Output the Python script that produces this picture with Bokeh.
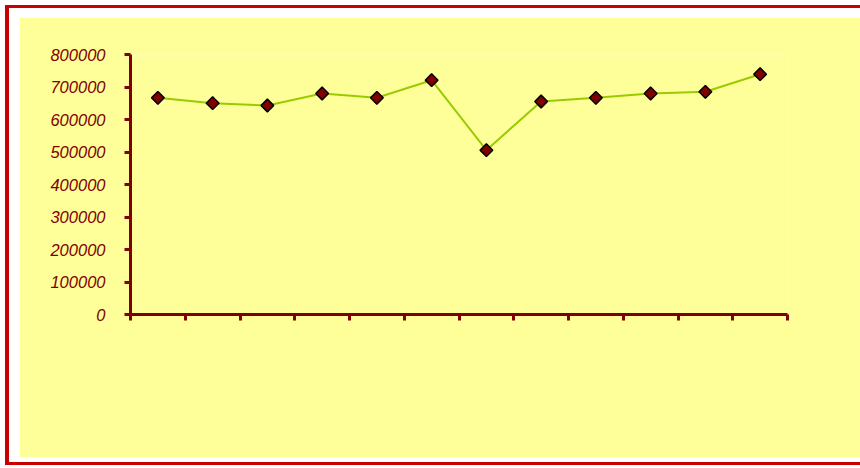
from bokeh.plotting import figure
from bokeh.layouts import column
from bokeh.models import Range1d, FixedTicker
from bokeh.embed import file_html
from bokeh.resources import INLINE
import math

# ---- data ----
periods = [1, 2, 3, 4, 5, 6, 7, 8, 9, 10, 11, 12]
values = [666700, 650200, 643100, 680000, 666700, 721000,
          505600, 655400, 666700, 680000, 685200, 739400]
y_ticks = [0, 100000, 200000, 300000, 400000, 500000, 600000, 700000, 800000]
y_tick_labels = ["0", "100000", "200000", "300000", "400000",
                 "500000", "600000", "700000", "800000"]
x_bounds = list(range(0, 13))

W, H = 841, 440
DARK = "#800000"
YELLOW = "#FFFF99"
RED = "#C80000"

x = [v - 0.5 for v in periods]

p = figure(width=W, height=H, output_backend="svg", toolbar_location=None,
           x_range=Range1d(0, 12), y_range=Range1d(0, 800000))
p.min_border = 0
p.min_border_left = 111
p.min_border_right = W - 768
p.min_border_top = 37
p.min_border_bottom = H - 297

p.background_fill_color = YELLOW
p.border_fill_color = YELLOW
p.outline_line_color = None
p.xgrid.visible = False
p.ygrid.visible = False

# axes
for ax in (p.xaxis[0], p.yaxis[0]):
    ax.axis_line_color = DARK
    ax.axis_line_width = 3
    ax.major_tick_line_color = DARK
    ax.major_tick_line_width = 3
    ax.major_tick_in = 0
    ax.major_tick_out = 6
    ax.minor_tick_line_color = None
    ax.major_label_text_color = DARK
    ax.major_label_text_font = "Liberation Sans"
    ax.major_label_text_font_style = "italic"
    ax.major_label_text_font_size = "16.5px"

p.yaxis.ticker = FixedTicker(ticks=y_ticks)
p.yaxis.major_label_overrides = {t: l for t, l in zip(y_ticks, y_tick_labels)}
p.yaxis.major_label_standoff = 19

p.xaxis.ticker = FixedTicker(ticks=x_bounds)
p.xaxis.major_label_overrides = {t: "" for t in x_bounds}

# series
p.line(x, values, line_color="#99CC00", line_width=2)
p.scatter(x, values, marker="square", angle=math.pi / 4, size=9,
          fill_color=DARK, line_color="black", line_width=1.5)

frame = column(p, margin=(5, 0, 0, 5), styles={
    "border-top": "3px solid " + RED,
    "border-left": "4px solid " + RED,
    "border-bottom": "3px solid " + RED,
    "padding": "9px 0px 5px 10px",
    "background-color": "white",
})

open("out.html", "w").write(file_html(frame, INLINE))
